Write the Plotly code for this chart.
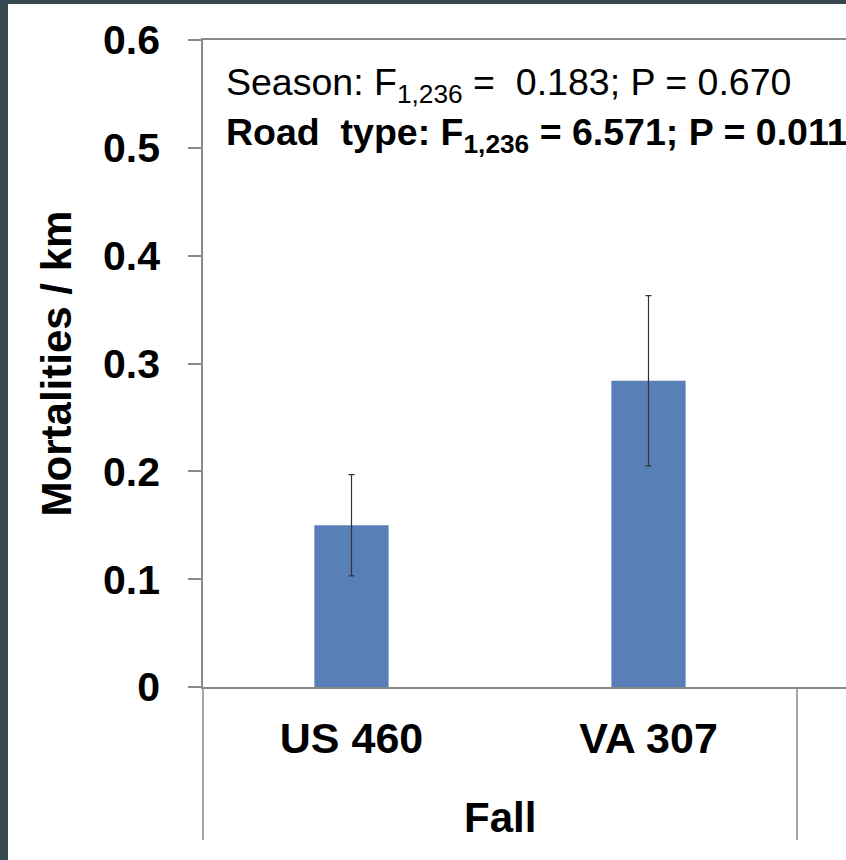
import plotly.graph_objects as go

# Data
roads = ["US 460", "VA 307"]
mortalities = [0.150, 0.284]
errors = [0.047, 0.079]
season_label = "Fall"
y_ticks = [0, 0.1, 0.2, 0.3, 0.4, 0.5, 0.6]
y_ticktext = ["0", "0.1", "0.2", "0.3", "0.4", "0.5", "0.6"]
stats_line1 = "Season: F<sub>1,236</sub> =&nbsp; 0.183; P = 0.670"
stats_line2 = "<b>Road&nbsp; type: F<sub>1,236</sub> = 6.571; P = 0.011</b>"

FONT = "Liberation Sans, Arial, sans-serif"
BAR_COLOR = "#587fb8"
LINE_COLOR = "#8a8a8a"

x_range = [-0.5, 1.665]
sep_paper = (1.5 - x_range[0]) / (x_range[1] - x_range[0])

fig = go.Figure()
fig.add_trace(go.Bar(
    x=roads, y=mortalities, width=0.25,
    marker=dict(color=BAR_COLOR, line=dict(width=0)),
    error_y=dict(type="data", array=errors, visible=True,
                 color="#333333", thickness=1.2, width=3),
))

fig.update_layout(
    width=846, height=860,
    margin=dict(l=203, r=0, t=40, b=173),
    paper_bgcolor="#37474f",
    plot_bgcolor="white",
    showlegend=False,
    font=dict(family=FONT, color="black"),
    xaxis=dict(
        type="category", range=x_range,
        showline=True, linecolor=LINE_COLOR, linewidth=1.5, mirror=True,
        ticks="", showgrid=False, zeroline=False,
        tickfont=dict(family=FONT, size=43, weight="bold", color="black"),
        ticklabelstandoff=13,
    ),
    yaxis=dict(
        range=[0, 0.6], tickvals=y_ticks, ticktext=y_ticktext,
        showline=True, linecolor=LINE_COLOR, linewidth=1.5,
        ticks="outside", ticklen=13, tickcolor=LINE_COLOR, tickwidth=1.5,
        showgrid=False, zeroline=False,
        tickfont=dict(family=FONT, size=41, weight="bold", color="black"),
        ticklabelstandoff=20,
        title=dict(text="Mortalities / km",
                   font=dict(family=FONT, size=42, weight="bold", color="black"),
                   standoff=18),
    ),
    shapes=[
        # white canvas inside the dark frame
        dict(type="rect", xref="paper", yref="paper", layer="below",
             x0=(8 - 203) / 643, x1=1.2, y0=-0.4, y1=(687 - 4) / 647,
             fillcolor="white", line=dict(width=0)),
        # category group separators below the axis
        dict(type="line", xref="paper", yref="paper", x0=0, x1=0, y0=0, y1=-0.2365,
             line=dict(color=LINE_COLOR, width=1.5)),
        dict(type="line", xref="paper", yref="paper", x0=sep_paper, x1=sep_paper,
             y0=0, y1=-0.2365, line=dict(color=LINE_COLOR, width=1.5)),
    ],
    annotations=[
        dict(text=stats_line1, xref="paper", yref="paper", x=(224 - 203) / 643,
             y=(687 - 85) / 647,
             xanchor="left", yanchor="middle", showarrow=False,
             font=dict(family=FONT, size=37.5, color="black")),
        dict(text=stats_line2, xref="paper", yref="paper", x=(224 - 203) / 643,
             y=(687 - 135) / 647,
             xanchor="left", yanchor="middle", showarrow=False,
             font=dict(family=FONT, size=37.5, color="black")),
        dict(text="<b>" + season_label + "</b>", xref="x", yref="paper", x=0.5,
             y=(687 - 817) / 647, xanchor="center", yanchor="middle", showarrow=False,
             font=dict(family=FONT, size=42, color="black")),
    ],
)

fig.write_html("out.html", config={"displayModeBar": False},
               post_script="document.body.style.margin='0';")
